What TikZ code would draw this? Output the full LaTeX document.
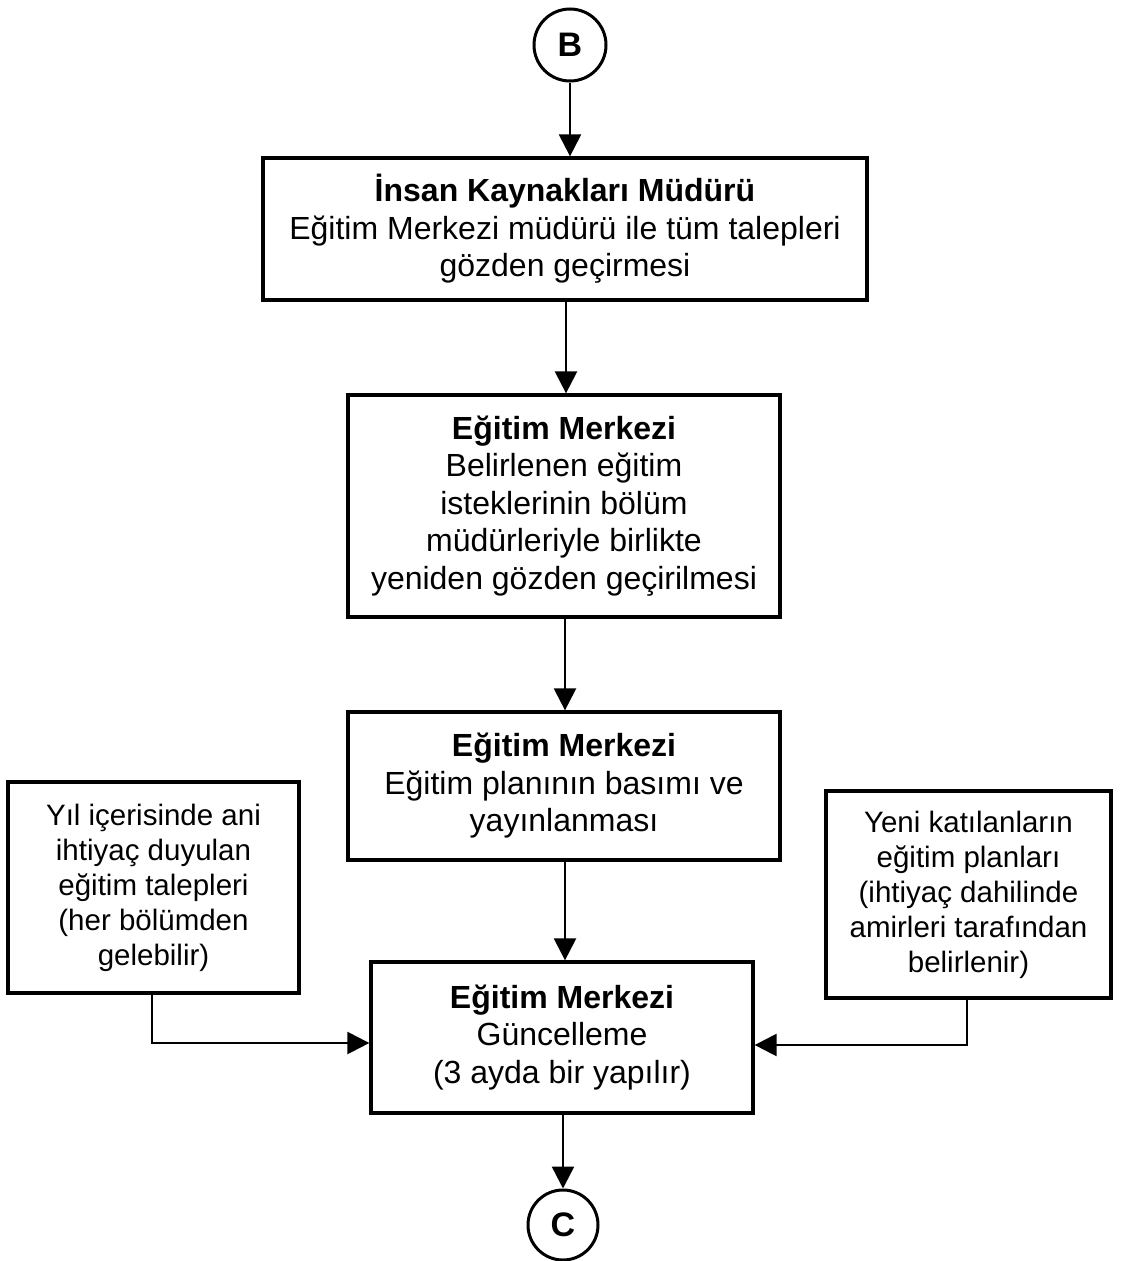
\documentclass[tikz,border=0pt]{standalone}
\usepackage{fontspec}
\setmainfont{Liberation Sans}
\usetikzlibrary{arrows.meta}
\begin{document}
\begin{tikzpicture}[x=1pt,y=-1pt,
  box/.style={draw, line width=3.3pt, align=center, inner sep=0pt, font=\fontsize{32}{37.5}\selectfont},
  sidebox/.style={draw, line width=3.3pt, align=center, inner sep=0pt, font=\fontsize{29.5}{35}\selectfont},
  conn/.style={draw, circle, line width=3pt, minimum size=72pt, inner sep=0pt, font=\fontsize{34}{36}\selectfont\bfseries},
  arr/.style={line width=2.4pt, -{Triangle[length=22pt,width=22pt]}}]
\useasboundingbox (0,0) rectangle (1121,1261);

\node[conn] (B) at (570,45) {B};

\node[box, minimum width=604pt, minimum height=142pt] (b1) at (565,229)
  {\textbf{İnsan Kaynakları Müdürü}\\Eğitim Merkezi müdürü ile tüm talepleri\\gözden geçirmesi};

\node[box, minimum width=432pt, minimum height=222pt] (b2) at (564,506)
  {\textbf{Eğitim Merkezi}\\Belirlenen eğitim\\isteklerinin bölüm\\müdürleriyle birlikte\\yeniden gözden geçirilmesi};

\node[box, minimum width=432pt, minimum height=148pt] (b3) at (564,786)
  {\textbf{Eğitim Merkezi}\\Eğitim planının basımı ve\\yayınlanması};

\node[box, minimum width=382pt, minimum height=151pt] (b4) at (562,1037.5)
  {\textbf{Eğitim Merkezi}\\Güncelleme\\(3 ayda bir yapılır)};

\node[sidebox, minimum width=291pt, minimum height=211pt] (L) at (153.5,887.5)
  {Yıl içerisinde ani\\ihtiyaç duyulan\\eğitim talepleri\\(her bölümden\\gelebilir)};

\node[sidebox, minimum width=285pt, minimum height=207pt] (R) at (968.5,894.5)
  {Yeni katılanların\\eğitim planları\\(ihtiyaç dahilinde\\amirleri tarafından\\belirlenir)};

\node[conn, minimum size=70pt] (C) at (563,1225) {C};

\draw[arr] (B) -- (B |- b1.north);
\draw[arr] (b1.south -| 566,0) -- (b2.north -| 566,0);
\draw[arr] (b2.south -| 565,0) -- (b3.north -| 565,0);
\draw[arr] (b3.south -| 565,0) -- (b4.north -| 565,0);
\draw[arr] (b4.south -| C) -- (C);

\coordinate (lj) at ([yshift=-5.5pt]b4.west);
\coordinate (rj) at ([yshift=-7.5pt]b4.east);
\draw[arr] (L.south -| 152,0) |- (lj);
\draw[arr] (R.south -| 967,0) |- (rj);
\end{tikzpicture}
\end{document}
